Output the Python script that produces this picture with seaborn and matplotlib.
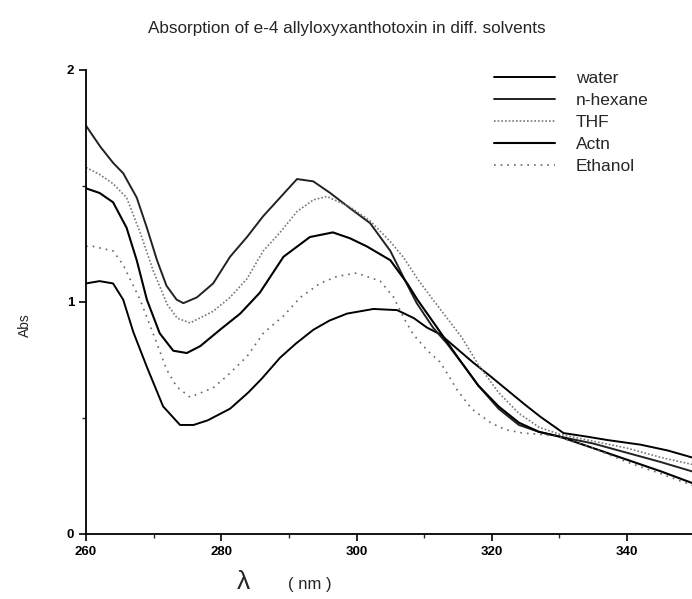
import numpy as np
import pandas as pd
import matplotlib
matplotlib.use("Agg")
import matplotlib.pyplot as plt
import seaborn as sns
from matplotlib.ticker import MultipleLocator

# ---------------- data ----------------
solvents = ["water", "n-hexane", "THF", "Actn", "Ethanol"]

water_wl = [260, 262, 264, 265.5, 267, 269, 271.4, 273.9, 275.9, 278, 281.3, 284, 286, 288.7,
            291, 293.6, 296, 298.6, 302.5, 306, 308.5, 310.4, 312.4, 314.8, 317.2, 319.8, 322.3,
            324.8, 327.2, 330.6, 334, 337.1, 342, 346, 349.6]
water_abs = [1.08, 1.09, 1.08, 1.01, 0.87, 0.72, 0.55, 0.47, 0.47, 0.49, 0.54, 0.61, 0.67, 0.76,
             0.82, 0.88, 0.92, 0.95, 0.97, 0.965, 0.93, 0.89, 0.86, 0.80, 0.74, 0.68, 0.62,
             0.56, 0.505, 0.435, 0.42, 0.405, 0.385, 0.36, 0.33]

hexane_wl = [260, 262.1, 264, 265.5, 267.5, 269, 270.5, 271.9, 273.4, 274.4, 276.4, 278.8, 281.3,
             283.8, 286.2, 288.7, 291.2, 293.6, 296.1, 299, 302, 305, 307.4, 308.9, 311.3, 313.4,
             315.5, 318, 321, 324, 327, 330, 335, 340, 345, 349.6]
hexane_abs = [1.76, 1.67, 1.60, 1.555, 1.45, 1.32, 1.18, 1.07, 1.01, 0.995, 1.02, 1.08, 1.195,
              1.28, 1.37, 1.45, 1.53, 1.52, 1.47, 1.405, 1.34, 1.22, 1.08, 0.995, 0.89, 0.82,
              0.74, 0.64, 0.54, 0.47, 0.44, 0.42, 0.39, 0.35, 0.31, 0.27]

thf_wl = [260, 262, 264, 266, 268, 270, 272, 273.5, 275.4, 278.8, 281.3, 283.8, 286.2, 288.7,
          291.2, 293.6, 295.6, 299, 302, 305, 307, 309, 311.3, 313.4, 315.5, 318, 321, 324,
          327, 330, 335, 340, 345, 349.6]
thf_abs = [1.58, 1.55, 1.51, 1.45, 1.30, 1.13, 0.99, 0.93, 0.91, 0.96, 1.02, 1.10, 1.22, 1.30,
           1.39, 1.44, 1.455, 1.41, 1.35, 1.26, 1.19, 1.10, 1.01, 0.93, 0.85, 0.73, 0.61, 0.52,
           0.46, 0.43, 0.40, 0.37, 0.33, 0.30]

actn_wl = [260, 262, 264, 266, 267.5, 269, 270.9, 272.9, 274.9, 276.9, 279.8, 282.8, 285.7,
           289.2, 293.1, 296.5, 299, 301.5, 305, 307.5, 309, 311.9, 315, 318, 321, 324, 327,
           330, 335, 340, 345, 349.6]
actn_abs = [1.49, 1.47, 1.43, 1.32, 1.18, 1.01, 0.865, 0.79, 0.78, 0.81, 0.88, 0.95, 1.04,
            1.195, 1.28, 1.30, 1.275, 1.24, 1.18, 1.08, 1.01, 0.89, 0.76, 0.64, 0.55, 0.48,
            0.44, 0.42, 0.37, 0.32, 0.27, 0.22]

eth_wl = [260, 261, 264, 265.5, 268, 270.5, 271.9, 273.4, 275.4, 278.8, 280.8, 283.8, 286.2,
          289.2, 291.7, 294.6, 297.1, 300, 303.5, 305.5, 307, 308.4, 310.5, 312.4, 314.9, 317,
          319.8, 322, 324.6, 327, 329.7, 335, 340, 345, 349.6]
eth_abs = [1.24, 1.24, 1.22, 1.16, 1.01, 0.82, 0.71, 0.635, 0.59, 0.63, 0.68, 0.765, 0.865,
           0.94, 1.02, 1.08, 1.11, 1.125, 1.09, 1.02, 0.93, 0.86, 0.79, 0.74, 0.62, 0.54,
           0.48, 0.45, 0.435, 0.43, 0.42, 0.37, 0.31, 0.26, 0.21]

x_ticks = [260, 280, 300, 320, 340]
y_ticks = [0, 1, 2]

title = "Absorption of e-4 allyloxyxanthotoxin in diff. solvents"

# ---------------- build long table ----------------
series = {
    "water": (water_wl, water_abs),
    "n-hexane": (hexane_wl, hexane_abs),
    "THF": (thf_wl, thf_abs),
    "Actn": (actn_wl, actn_abs),
    "Ethanol": (eth_wl, eth_abs),
}
frames = []
for name in solvents:
    wl, ab = series[name]
    frames.append(pd.DataFrame({"wl": wl, "abs": ab, "solvent": name}))
df = pd.concat(frames, ignore_index=True)

styles = {
    "water": dict(color="black", lw=1.4, ls="-"),
    "n-hexane": dict(color="#222222", lw=1.4, ls="-"),
    "THF": dict(color="#777777", lw=1.2, ls=(0, (1, 1.2))),
    "Actn": dict(color="black", lw=1.5, ls="-"),
    "Ethanol": dict(color="#666666", lw=1.2, ls=(0, (1, 3))),
}

sns.set_style("white")
plt.rcParams["font.family"] = ["Liberation Sans", "DejaVu Sans"]

fig = plt.figure(figsize=(6.92, 5.99), dpi=100)
ax = fig.add_axes([86 / 692, (599 - 534) / 599, (692 - 86) / 692, (534 - 70) / 599])

for name in solvents:
    sub = df[df["solvent"] == name]
    st = styles[name]
    sns.lineplot(data=sub, x="wl", y="abs", ax=ax, color=st["color"], linewidth=st["lw"],
                 linestyle=st["ls"], label=name, estimator=None, sort=False, legend=True)

ax.set_xlim(260, 349.6)
ax.set_ylim(0, 2)
ax.set_xticks(x_ticks)
ax.set_yticks(y_ticks)
ax.xaxis.set_minor_locator(MultipleLocator(10))
ax.yaxis.set_minor_locator(MultipleLocator(0.5))
ax.tick_params(axis="both", which="major", direction="out", length=5, width=1.2,
               labelsize=9.5, colors="black", bottom=True, left=True)
ax.tick_params(axis="both", which="minor", direction="out", length=3, width=1,
               bottom=True, left=True)
for lab in ax.get_xticklabels() + ax.get_yticklabels():
    lab.set_fontweight("bold")

for s in ["top", "right"]:
    ax.spines[s].set_visible(False)
for s in ["left", "bottom"]:
    ax.spines[s].set_color("black")
    ax.spines[s].set_linewidth(1.3)

ax.set_xlabel("")
ax.set_ylabel("")
fig.text(25 / 692, 1 - 325 / 599, "Abs", rotation=90, fontsize=10, ha="center", va="center")
fig.text(243 / 692, 1 - 582 / 599, "λ", fontsize=19, ha="center", va="center")
fig.text(310 / 692, 1 - 584 / 599, "( nm )", fontsize=12, ha="center", va="center")
fig.text(347 / 692, 1 - 28 / 599, title, fontsize=12.3, ha="center", va="center")

handles, labels = ax.get_legend_handles_labels()
ax.get_legend().remove()
fig.legend(handles, labels, loc="upper left", bbox_to_anchor=(494 / 692, 1 - 71 / 599),
           frameon=False, fontsize=12.5, handlelength=3.5, labelspacing=0.39, handletextpad=1.2,
           borderaxespad=0, borderpad=0)

fig.savefig("out.png", dpi=100)
